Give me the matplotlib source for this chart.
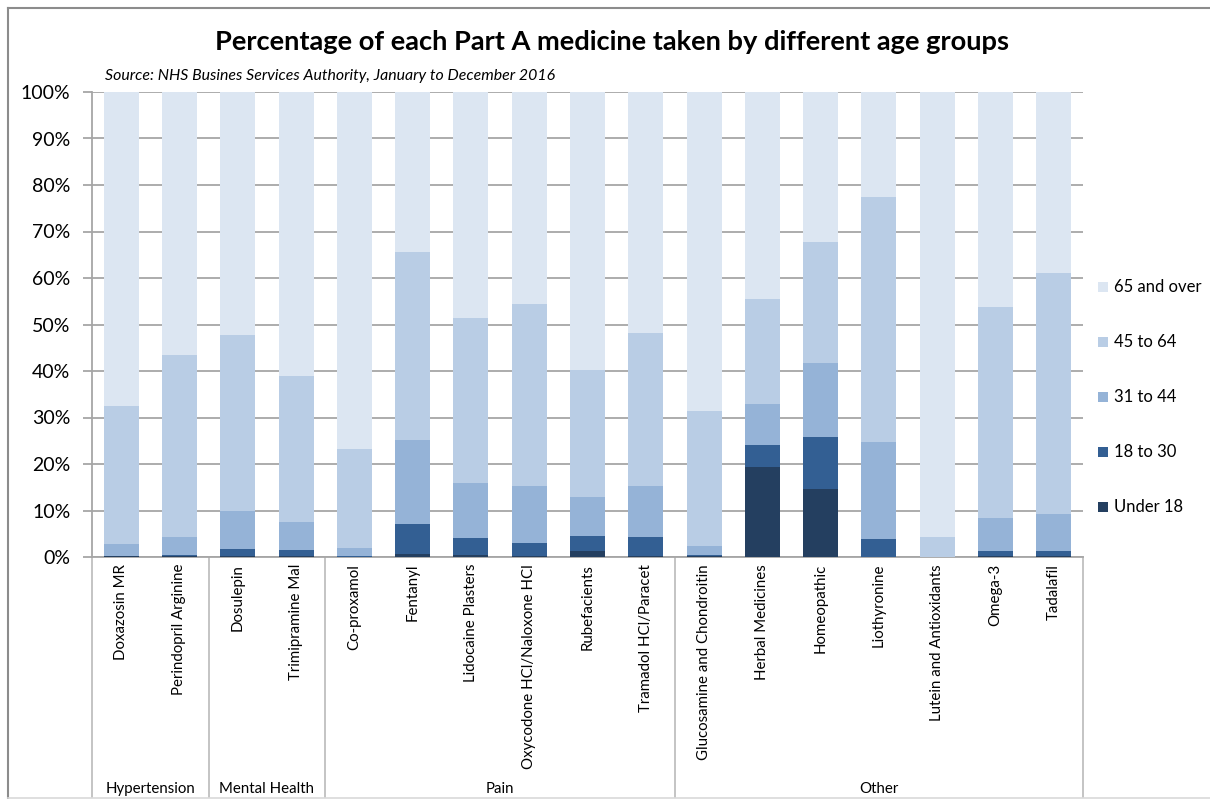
import matplotlib
matplotlib.use("Agg")
import matplotlib.pyplot as plt
from matplotlib.patches import Rectangle
from matplotlib.lines import Line2D
import numpy as np

plt.rcParams['font.family'] = ['Lato', 'DejaVu Sans']

medicines = ["Doxazosin MR", "Perindopril Arginine", "Dosulepin", "Trimipramine Mal",
             "Co-proxamol", "Fentanyl", "Lidocaine Plasters", "Oxycodone HCl/Naloxone HCl",
             "Rubefacients", "Tramadol HCl/Paracet", "Glucosamine and Chondroitin",
             "Herbal Medicines", "Homeopathic", "Liothyronine", "Lutein and Antioxidants",
             "Omega-3", "Tadalafil"]
groups = ["Hypertension", "Mental Health", "Pain", "Other"]
group_sizes = [2, 2, 6, 7]

# percentages per age group (each bar sums to 100)
under_18 = [0.2, 0.2, 0.3, 0.2, 0.1, 0.7, 0.5, 0.2, 1.3, 0.2, 0.2, 19.3, 14.6, 0.1, 0.0, 0.2, 0.2]
age_18_30 = [0.1, 0.2, 1.5, 1.3, 0.1, 6.5, 3.5, 2.9, 3.2, 4.1, 0.3, 4.7, 11.3, 3.7, 0.0, 1.1, 1.1]
age_31_44 = [2.4, 3.8, 8.0, 6.1, 1.7, 18.0, 12.0, 12.2, 8.3, 11.0, 1.8, 8.8, 15.8, 21.0, 0.1, 7.0, 7.9]
age_45_64 = [29.8, 39.3, 38.0, 31.4, 21.4, 40.3, 35.3, 39.2, 27.4, 32.9, 29.1, 22.7, 26.1, 52.7, 4.1, 45.4, 51.8]
age_65_over = [67.5, 56.5, 52.2, 61.0, 76.7, 34.5, 48.7, 45.5, 59.8, 51.8, 68.6, 44.5, 32.2, 22.5, 95.8, 46.3, 39.0]

series = [("Under 18", under_18, "#243F60"),
          ("18 to 30", age_18_30, "#335F93"),
          ("31 to 44", age_31_44, "#95B3D7"),
          ("45 to 64", age_45_64, "#B9CDE5"),
          ("65 and over", age_65_over, "#DCE6F2")]

yticks = [0, 10, 20, 30, 40, 50, 60, 70, 80, 90, 100]
ytick_labels = ["0%", "10%", "20%", "30%", "40%", "50%", "60%", "70%", "80%", "90%", "100%"]

W, H = 1210, 799
fig = plt.figure(figsize=(W / 100, H / 100), dpi=100)
fig.patch.set_facecolor("white")

left, right, top, bottom = 92, 1083, 92, 557
ax = fig.add_axes([left / W, 1 - bottom / H, (right - left) / W, (bottom - top) / H])

x = np.arange(len(medicines))
base = np.zeros(len(medicines))
colors = {}
for name, vals, col in series:
    v = np.array(vals, dtype=float)
    ax.bar(x, v, bottom=base, width=0.6, color=col, edgecolor="none", zorder=3)
    colors[name] = col
    base += v

ax.set_xlim(-0.5, len(medicines) - 0.5)
ax.set_ylim(0, 100)
ax.set_yticks(yticks)
ax.set_yticklabels(ytick_labels, fontsize=14)
ax.yaxis.grid(True, color="#A6A6A6", linewidth=1.3, zorder=0)
ax.set_axisbelow(True)
for s in ["top", "right"]:
    ax.spines[s].set_visible(False)
for s in ["left", "bottom"]:
    ax.spines[s].set_color("#A6A6A6")
    ax.spines[s].set_linewidth(1.3)
ax.tick_params(axis="y", length=6.5, color="#A6A6A6", width=1.3, pad=9)

ax.set_xticks(x)
ax.set_xticklabels(medicines, rotation=90, fontsize=10.8, va="top", ha="center")
ax.tick_params(axis="x", length=0, pad=5)

# group separators and labels
ext = -(797 - bottom) / (bottom - top)
pos = -0.5
boundaries = [pos]
for gs in group_sizes:
    pos += gs
    boundaries.append(pos)
for bnd in boundaries:
    ax.axvline(bnd, ymin=ext, ymax=0, color="#BFBFBF", linewidth=1.3, clip_on=False)
gy = -(789 - bottom) / (bottom - top)
for i, g in enumerate(groups):
    c = (boundaries[i] + boundaries[i + 1]) / 2
    ax.text(c, gy, g, transform=ax.get_xaxis_transform(), ha="center", va="center", fontsize=10.8)

# title and subtitle
fig.text(612 / W, 1 - 42 / H, "Percentage of each Part A medicine taken by different age groups",
         ha="center", va="center", fontsize=19.6, fontweight="bold")
fig.text(105 / W, 1 - 76 / H, "Source: NHS Busines Services Authority, January to December 2016",
         ha="left", va="center", fontsize=11.4, style="italic")

# legend (drawn manually to match layout)
order = ["65 and over", "45 to 64", "31 to 44", "18 to 30", "Under 18"]
leg_y = [287, 342, 397, 452, 507]
for n, yy in zip(order, leg_y):
    fig.add_artist(Rectangle((1098 / W, 1 - (yy + 5) / H), 10 / W, 10 / H,
                             transform=fig.transFigure, facecolor=colors[n], edgecolor="none"))
    fig.text(1114 / W, 1 - yy / H, n, ha="left", va="center", fontsize=12)

# figure border (top and left darker, bottom faint)
fig.add_artist(Line2D([7.5 / W, 1.0], [1 - 7.5 / H, 1 - 7.5 / H], transform=fig.transFigure,
                      color="#8C8C8C", linewidth=1.5))
fig.add_artist(Line2D([7.5 / W, 7.5 / W], [0.0, 1 - 7.5 / H], transform=fig.transFigure,
                      color="#8C8C8C", linewidth=1.5))
fig.add_artist(Line2D([7.5 / W, 1.0], [1 - 797.5 / H, 1 - 797.5 / H], transform=fig.transFigure,
                      color="#D9D9D9", linewidth=1.2))

fig.savefig("out.png", dpi=100)
